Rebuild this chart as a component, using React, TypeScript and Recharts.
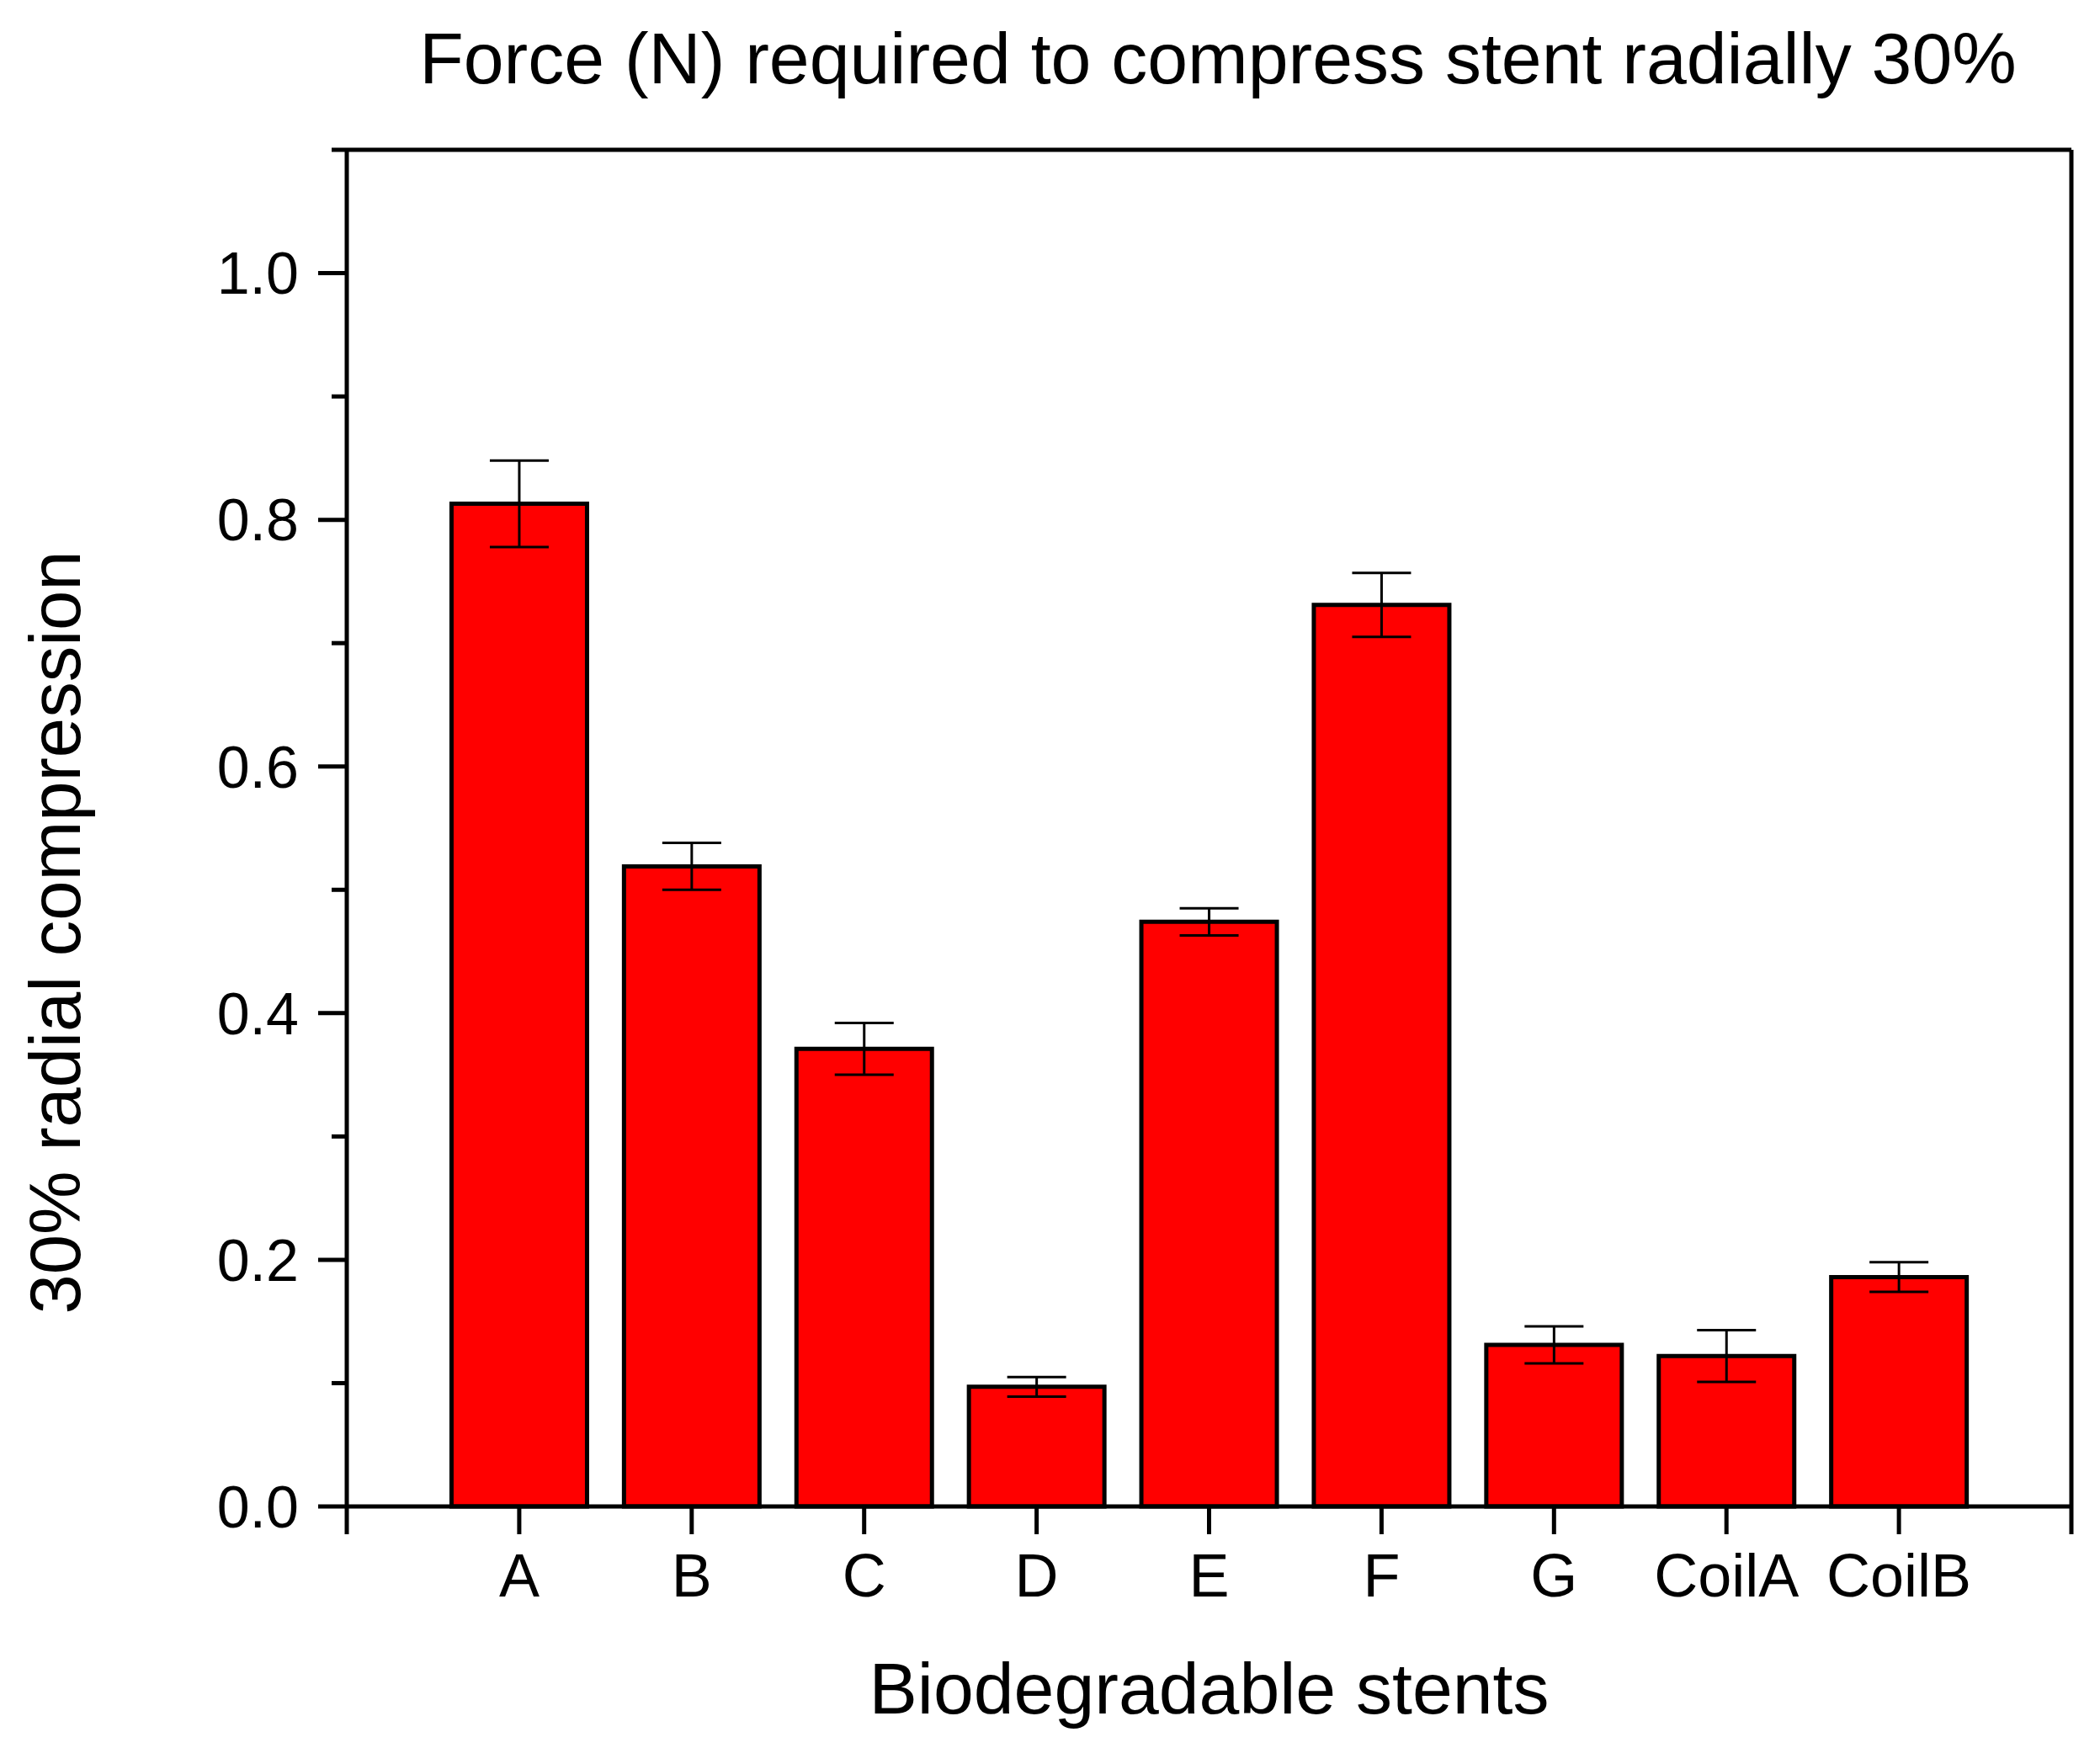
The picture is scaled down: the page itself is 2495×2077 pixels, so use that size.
import React from "react";
import { BarChart, Bar, XAxis, YAxis, ErrorBar, Label, CartesianGrid } from "recharts";

const categories = ["A", "B", "C", "D", "E", "F", "G", "CoilA", "CoilB"];
const forceValues = [0.813, 0.519, 0.371, 0.097, 0.474, 0.731, 0.131, 0.122, 0.186];
const forceErrors = [0.035, 0.019, 0.021, 0.008, 0.011, 0.026, 0.015, 0.021, 0.012];
const xTicks = [0, 1, 2, 3, 4, 5, 6, 7, 8, 9, 10];
const yTicks = [0, 0.1, 0.2, 0.3, 0.4, 0.5, 0.6, 0.7, 0.8, 0.9, 1.0, 1.1];
const majorYLabels = ["0.0", "0.2", "0.4", "0.6", "0.8", "1.0"];

const title = "Force (N) required to compress stent radially 30%";
const xTitle = "Biodegradable stents";
const yTitle = "30% radial compression";

const data = categories.map((name, i) => ({
  pos: i + 1,
  name,
  value: forceValues[i],
  err: forceErrors[i],
}));

const FONT = "'Liberation Sans', Arial, Helvetica, sans-serif";

const YTick = (props: any) => {
  const { x, y, payload } = props;
  const idx = Math.round(payload.value * 10);
  const major = idx % 2 === 0 && idx <= 10;
  const len = major ? 34 : 18;
  return (
    <g>
      <line x1={x - len} y1={y} x2={x} y2={y} stroke="#000" strokeWidth={5} />
      {major ? (
        <text
          x={x - 57}
          y={y}
          dy="0.355em"
          textAnchor="end"
          fontSize={70}
          fontFamily={FONT}
          fill="#000"
        >
          {majorYLabels[idx / 2]}
        </text>
      ) : null}
    </g>
  );
};

export default function App() {
  return (
    <div
      style={{
        position: "absolute",
        left: 0,
        top: 0,
        width: 2495,
        height: 2077,
        background: "#fff",
      }}
    >
      <BarChart
        width={2495}
        height={2077}
        data={data}
        margin={{ top: 178, right: 34, bottom: 0, left: 0 }}
      >
        <CartesianGrid
          stroke="#000"
          strokeWidth={5}
          horizontalCoordinatesGenerator={(p: any) => [p.offset.top]}
          verticalCoordinatesGenerator={(p: any) => [p.offset.left + p.offset.width]}
        />
        <XAxis
          dataKey="pos"
          type="number"
          domain={[0, 10]}
          ticks={xTicks}
          interval={0}
          allowDecimals={false}
          height={287}
          axisLine={{ stroke: "#000", strokeWidth: 5 }}
          tickLine={{ stroke: "#000", strokeWidth: 5 }}
          tickSize={33}
          tickMargin={23}
          tick={{ fill: "#000", fontSize: 72, fontFamily: FONT }}
          tickFormatter={(v: number) => categories[v - 1] ?? ""}
        >
          <Label
            content={(p: any) => {
              const vb = p.viewBox || {};
              return (
                <text
                  x={vb.x + vb.width / 2}
                  y={vb.y + 246}
                  textAnchor="middle"
                  fontSize={86}
                  fontFamily={FONT}
                  fill="#000"
                >
                  {xTitle}
                </text>
              );
            }}
          />
        </XAxis>
        <YAxis
          type="number"
          domain={[0, 1.1]}
          ticks={yTicks}
          interval={0}
          width={412}
          axisLine={{ stroke: "#000", strokeWidth: 5 }}
          tickLine={false}
          tickSize={0}
          tickMargin={0}
          tick={<YTick />}
        >
          <Label
            content={(p: any) => {
              const vb = p.viewBox || {};
              const cy = vb.y + vb.height / 2 + 124;
              return (
                <g>
                  <text
                    x={95}
                    y={cy}
                    transform={`rotate(-90, 95, ${cy})`}
                    textAnchor="middle"
                    fontSize={85}
                    fontFamily={FONT}
                    fill="#000"
                  >
                    {yTitle}
                  </text>
                  <text
                    x={1447}
                    y={vb.y - 79}
                    textAnchor="middle"
                    fontSize={86}
                    fontFamily={FONT}
                    fill="#000"
                  >
                    {title}
                  </text>
                </g>
              );
            }}
          />
        </YAxis>
        <Bar
          dataKey="value"
          fill="#ff0000"
          stroke="#000"
          strokeWidth={5}
          barSize={161}
          isAnimationActive={false}
        >
          <ErrorBar
            dataKey="err"
            direction="y"
            width={35}
            stroke="#000"
            strokeWidth={3}
          />
        </Bar>
      </BarChart>
    </div>
  );
}
